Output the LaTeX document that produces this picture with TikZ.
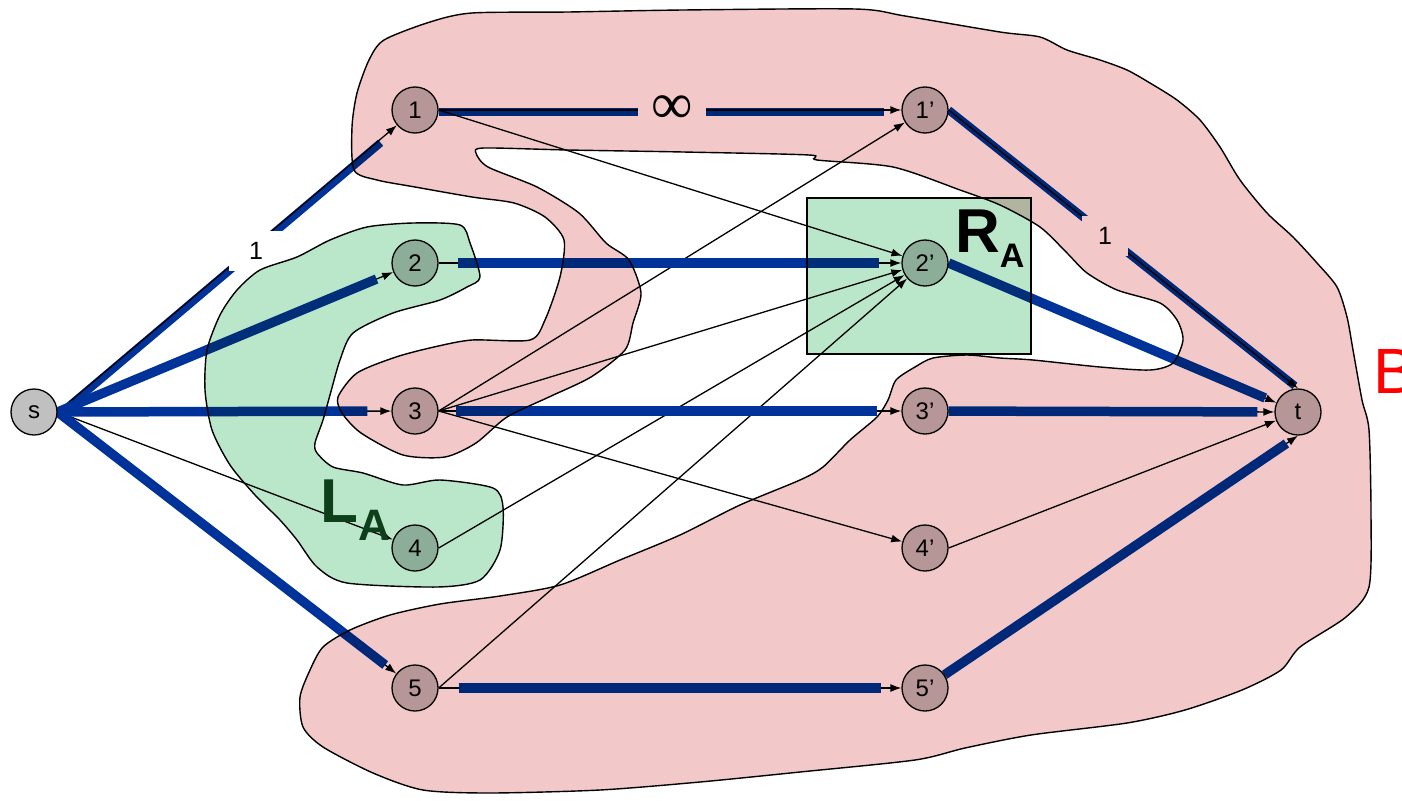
\documentclass[tikz,border=0pt]{standalone}
\usepackage{fontspec}
\setmainfont{Liberation Sans}
\newfontfamily\inffont{Liberation Serif}
\usetikzlibrary{arrows.meta}
\definecolor{flowblue}{RGB}{0,51,153}
\definecolor{regionB}{RGB}{243,200,200}
\definecolor{regionA}{RGB}{186,230,202}
\definecolor{nodegray}{RGB}{192,192,192}
\definecolor{labelgreen}{RGB}{20,70,35}
\pgfdeclarelayer{below}
\pgfsetlayers{below,main}
\begin{document}
\begin{tikzpicture}[x=1pt,y=-1pt,
  vertex/.style={circle, draw=black, line width=1.3pt, fill=nodegray,
    minimum size=46pt, inner sep=0pt, font=\fontsize{24}{24}\selectfont},
  flow/.style={draw=flowblue, line width=9.5pt},
  arc/.style={draw=black, line width=1.3pt, -{Latex[length=11pt,width=8pt]}},
  capbox/.style={fill=white, inner sep=0pt, font=\fontsize{25}{25}\selectfont},
  region/.style={draw=black, line width=1.4pt}]
\useasboundingbox (0,0) rectangle (1402,800);

% vertices
\node[vertex] (s)  at (34,412)  {s};
\node[vertex] (n1) at (415,110) {1};
\node[vertex] (n2) at (415,263) {2};
\node[vertex] (n3) at (415,411) {3};
\node[vertex] (n4) at (415,548) {4};
\node[vertex] (n5) at (415,688) {5};
\node[vertex] (p1) at (925,110) {1'};
\node[vertex] (p2) at (925,263) {2'};
\node[vertex] (p3) at (925,411) {3'};
\node[vertex] (p4) at (925,548) {4'};
\node[vertex] (p5) at (925,688) {5'};
\node[vertex] (t)  at (1298,412) {t};

\begin{pgfonlayer}{below}
  % flows through vertex 1 lie under their edges
  \draw[flow, line width=8pt, shorten >=24pt, transform canvas={shift={(2pt,-2pt)}}] (s.east) -- (n1);
  \draw[flow, line width=8pt, shorten >=17pt, transform canvas={shift={(0pt,-1.5pt)}}] (n1) -- (p1);
  \draw[flow, line width=8pt, shorten >=4pt] (p1.east) -- (t.north);
  % all edges
  \draw[arc] (s.east) -- (n1);
  \draw[arc] (s.east) -- (n2);
  \draw[arc] (s.east) -- (n3);
  \draw[arc] (s.east) -- (n4);
  \draw[arc] (s.east) -- (n5);
  \draw[arc] (n1) -- (p1);
  \draw[arc] (n1.east) -- (p2);
  \draw[arc] (n2) -- (p2);
  \draw[arc] (n3.east) -- (p1);
  \draw[arc] (n3.east) -- (p2);
  \draw[arc] (n3) -- (p3);
  \draw[arc] (n3.east) -- (p4);
  \draw[arc] (n4.east) -- (p2);
  \draw[arc] (n5.east) -- (p2);
  \draw[arc] (n5) -- (p5);
  \draw[arc] (p1.east) -- (t.north);
  \draw[arc] (p2.east) -- (t);
  \draw[arc] (p3) -- (t);
  \draw[arc] (p4.east) -- (t);
  \draw[arc] (p5) -- (t.south);
  % the other flows cover their edges
  \draw[flow, shorten >=18pt] (s.east) -- (n2);
  \draw[flow, shorten >=24pt] (s.east) -- (n3);
  \draw[flow, shorten >=14pt] (s.east) -- (n5);
  \draw[flow, shorten <=19pt, shorten >=22pt] (n2) -- (p2);
  \draw[flow, shorten <=17pt, shorten >=24pt] (n3) -- (p3);
  \draw[flow, shorten <=20pt, shorten >=20pt] (n5) -- (p5);
  \draw[flow, shorten >=12pt] (p2.east) -- (t);
  \draw[flow, shorten >=17pt] (p3) -- (t);
  \draw[flow, shorten >=14pt] (p5) -- (t.south);
  % capacities
  \node[capbox, minimum width=54pt, minimum height=40pt] (cs1) at (256,251) {1};
  \node[capbox, minimum width=68pt, minimum height=30pt,
        font=\fontsize{58}{58}\inffont] (cinf) at (672,110) {\raisebox{-6pt}{∞}};
  \node[capbox, minimum width=46pt, minimum height=40pt] (ct1) at (1105,236) {1};
\end{pgfonlayer}

% set labels
\node[anchor=base west, text=labelgreen, inner sep=0pt,
      font=\fontsize{62}{62}\selectfont\bfseries] (LA) at (320,522)
  {L\raisebox{-18pt}{\fontsize{44}{44}\selectfont A}};

\begin{scope}[blend mode=multiply]
  % set B
  \path[region, fill=regionB] plot[smooth cycle, tension=0.45] coordinates {
    (384,40) (430,22) (472,13) (568,12) (683,10) (855,9) (905,16) (1000,32)
    (1040,37) (1067,50) (1100,60) (1127,70) (1150,83) (1177,100) (1200,120)
    (1220,147) (1240,180) (1267,213) (1293,237) (1317,263) (1337,287)
    (1347,317) (1353,350) (1362,400) (1369,430) (1371,513) (1369,587)
    (1346,617) (1300,647) (1281,670) (1242,690) (1185,710) (1127,723)
    (1031,735) (965,748) (915,760) (800,772) (700,782) (600,790) (490,793)
    (423,790) (373,773) (323,747) (303,727) (300,697) (310,670) (323,647)
    (350,630) (390,615) (440,604) (500,596) (560,585) (620,560) (680,535)
    (740,505) (800,480) (823,467) (850,440) (877,417) (888,400) (896,380)
    (915,367) (933,358) (967,355) (1000,358) (1033,360) (1100,367)
    (1150,370) (1173,363) (1183,340) (1177,320) (1160,303) (1117,290)
    (1087,273) (1067,253) (1040,227) (1000,205) (960,190) (893,167)
    (817,160) (809,155) (683,152) (568,150) (484,148) (476,153) (488,167)
    (537,187) (579,213) (606,243) (629,260) (641,293) (633,323) (625,350)
    (591,377) (549,397) (507,417) (476,443) (445,457) (403,455) (361,433)
    (342,413) (338,397) (357,373) (396,357) (434,347) (472,340) (530,340)
    (545,320) (560,277) (564,240) (545,217) (514,203) (472,197) (415,187)
    (377,180) (354,170) (352,127) (357,93) (369,60)};
  % set L_A
  \path[region, fill=regionA] plot[smooth cycle, tension=0.45] coordinates {
    (260,270) (297,257) (330,240) (367,227) (413,223) (460,225) (470,243)
    (480,277) (467,287) (440,300) (393,313) (353,333) (340,360) (330,395)
    (323,420) (315,443) (317,453) (333,467) (363,473) (403,485) (440,480)
    (493,488) (503,507) (500,550) (480,580) (437,587) (347,583) (317,567)
    (297,540) (280,520) (255,495) (230,465) (212,430) (205,390) (207,350)
    (220,315) (237,290)};
  % set R_A
  \path[region, line width=1.3pt, fill=regionA] (807,198) rectangle (1031,354);
\end{scope}

\node[anchor=base west, inner sep=0pt,
      font=\fontsize{62}{62}\selectfont\bfseries] (RA) at (955,252)
  {R\raisebox{-15pt}{\fontsize{34}{34}\selectfont A}};
\node[anchor=base west, inner sep=0pt, text=red,
      font=\fontsize{64}{64}\selectfont] (Blab) at (1373,393) {B};
\end{tikzpicture}
\end{document}
